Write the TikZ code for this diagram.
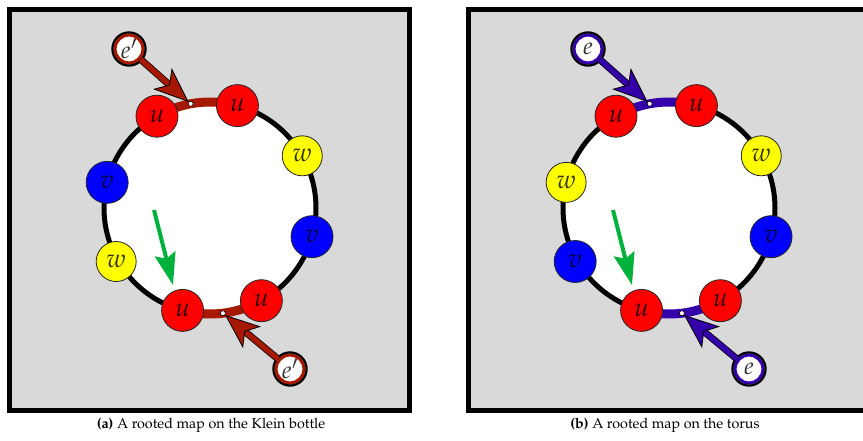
\documentclass[tikz,border=0pt]{standalone}
\usepackage[T1]{fontenc}
\usepackage{mathpazo}
\usetikzlibrary{arrows.meta,calc}
\definecolor{bgray}{RGB}{217,217,217}
\definecolor{edgered}{RGB}{166,25,0}
\definecolor{edgepurple}{RGB}{51,0,170}
\definecolor{arrgreen}{RGB}{0,178,60}
\definecolor{nred}{RGB}{255,0,0}
\definecolor{nblue}{RGB}{0,0,255}
\definecolor{nyellow}{RGB}{255,255,0}
\tikzset{
  panel/.style={draw=black, line width=5pt, fill=bgray},
  face/.style={draw=black, line width=5pt, fill=white},
  vert/.style={circle, draw=black!85, line width=0.8pt, inner sep=0pt, minimum size=42pt,
     font=\fontsize{26}{30}\selectfont, text opacity=0.8},
  uvert/.style={vert, fill=nred},
  vvert/.style={vert, fill=nblue},
  wvert/.style={vert, fill=nyellow, minimum size=40pt},
  rootdot/.style={circle, draw=black, line width=0.6pt, fill=white, inner sep=0pt, minimum size=5pt},
  halfnode/.style={circle, fill=white, draw=#1, line width=3.2pt, inner sep=0pt, minimum size=28pt,
     font=\fontsize{24}{28}\selectfont, text opacity=0.8},
  halfring/.style={draw=black, line width=2.2pt},
  rootedge/.style={draw=#1, line width=9pt},
  rootarrow/.style={draw=#1, line width=5.5pt,
     preaction={draw=black, line width=7pt, -, shorten >=24pt},
     -{Stealth[length=35pt, width=28pt, inset=9pt, color=black, fill=#1, line width=0.8pt]}},
  greenarrow/.style={draw=arrgreen, line width=4pt, -{Stealth[length=32pt, width=21pt, inset=5pt]}},
  caplabel/.style={font=\fontsize{14.3}{17}\selectfont}
}
\begin{document}
\begin{tikzpicture}[x=1pt,y=1pt]
\useasboundingbox (0,0) rectangle (863,440);
% ---------- panel (a) ----------
\draw[panel] (9.5,30) rectangle (409.5,430.5);
\coordinate (C1) at (210,232);
\draw[face] (C1) circle[radius=106];
\path (C1) ++(120:106) coordinate (pa1);
\path (C1) ++(75:106) coordinate (pa2);
\path (C1) ++(-105:106) coordinate (pa3);
\path (C1) ++(-61:106) coordinate (pa4);
\draw[rootedge=edgered] (pa1) arc[start angle=120, end angle=75, radius=106];
\draw[rootedge=edgered] (pa3) arc[start angle=-105, end angle=-61, radius=106];
\path (C1) ++(100.5:106) node[rootdot] (da1) {};
\path (C1) ++(-83:106) node[rootdot] (da2) {};
\node[uvert] (ua1) at (pa1) {$u$};
\node[uvert] (ua2) at (pa2) {$u$};
\node[uvert] (ua3) at (pa3) {$u$};
\node[uvert] (ua4) at (pa4) {$u$};
\path (C1) ++(29.5:106) node[wvert] (wa1) {$w$};
\path (C1) ++(-15.7:106) node[vvert] (va1) {$v$};
\path (C1) ++(-150.3:108) node[wvert] (wa2) {$w$};
\path (C1) ++(166:106) node[vvert] (va2) {$v$};
\node[halfnode=edgered] (ea1) at (129,391) {$e'$};
\draw[halfring] (ea1.center) circle[radius=16.6];
\node[halfnode=edgered] (ea2) at (290,71) {$e'$};
\draw[halfring] (ea2.center) circle[radius=16.6];
\draw[rootarrow=edgered] (ea1) -- (da1);
\draw[rootarrow=edgered] (ea2) -- (da2);
\coordinate (ga1) at (154,230);
\coordinate (ga2) at (173,155);
\draw[greenarrow] (ga1) -- (ga2);
\node[caplabel] (capa) at (211,15) {\textbf{(a)} A rooted map on the Klein bottle};
% ---------- panel (b) ----------
\draw[panel] (468.5,30) rectangle (868.5,430.5);
\coordinate (C2) at (669,232);
\draw[face] (C2) circle[radius=106];
\path (C2) ++(120:106) coordinate (pb1);
\path (C2) ++(75:106) coordinate (pb2);
\path (C2) ++(-105:106) coordinate (pb3);
\path (C2) ++(-61:106) coordinate (pb4);
\draw[rootedge=edgepurple] (pb1) arc[start angle=120, end angle=75, radius=106];
\draw[rootedge=edgepurple] (pb3) arc[start angle=-105, end angle=-61, radius=106];
\path (C2) ++(100.5:106) node[rootdot] (db1) {};
\path (C2) ++(-83:106) node[rootdot] (db2) {};
\node[uvert] (ub1) at (pb1) {$u$};
\node[uvert] (ub2) at (pb2) {$u$};
\node[uvert] (ub3) at (pb3) {$u$};
\node[uvert] (ub4) at (pb4) {$u$};
\path (C2) ++(29.5:106) node[wvert] (wb1) {$w$};
\path (C2) ++(-15.7:106) node[vvert] (vb1) {$v$};
\path (C2) ++(-150.3:108) node[vvert] (vb2) {$v$};
\path (C2) ++(166:106) node[wvert] (wb2) {$w$};
\node[halfnode=edgepurple] (eb1) at (588,391) {$e$};
\draw[halfring] (eb1.center) circle[radius=16.6];
\node[halfnode=edgepurple] (eb2) at (749,71) {$e$};
\draw[halfring] (eb2.center) circle[radius=16.6];
\draw[rootarrow=edgepurple] (eb1) -- (db1);
\draw[rootarrow=edgepurple] (eb2) -- (db2);
\coordinate (gb1) at (613,230);
\coordinate (gb2) at (632,155);
\draw[greenarrow] (gb1) -- (gb2);
\node[caplabel] (capb) at (665,15) {\textbf{(b)} A rooted map on the torus};
\end{tikzpicture}
\end{document}
